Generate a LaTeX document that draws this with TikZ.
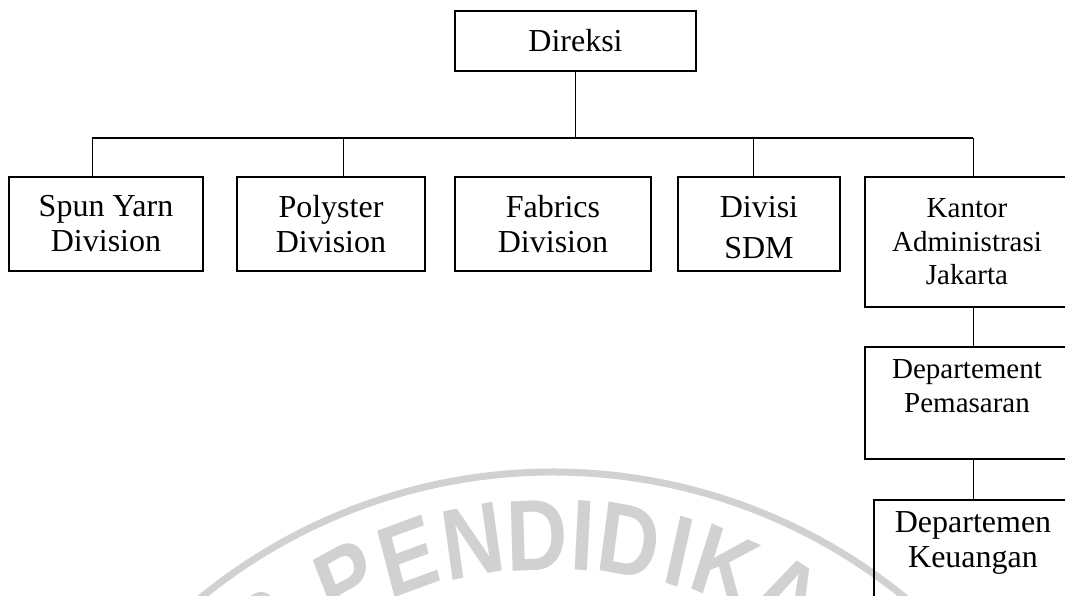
\documentclass[tikz,border=0pt]{standalone}
\usepackage{fontspec}
\setmainfont{Liberation Serif}
\newfontfamily\wmfont{Liberation Sans}
\usetikzlibrary{calc}
\definecolor{wmgray}{gray}{0.82}
\begin{document}
\begin{tikzpicture}[x=1pt,y=-1pt,
  orgbox/.style={draw=black,line width=1.8pt,inner sep=0pt,align=center,
    font=\fontsize{32}{35}\selectfont},
  smallbox/.style={orgbox,font=\fontsize{29}{33.5}\selectfont},
  conn/.style={draw=black,line width=1pt},
  busline/.style={draw=black,line width=1.6pt},
  wmletter/.style={text=wmgray,inner sep=0pt,anchor=center,xscale=0.84,
    font=\wmfont\bfseries\fontsize{101}{101}\selectfont},
  wmline/.style={draw=wmgray,line width=7pt}]
\useasboundingbox (0,0) rectangle (1065,596);
\clip (0,0) rectangle (1065,596);
\fill[white] (0,0) rectangle (1065,596);
% watermark
\coordinate (wc) at (553,1028);
\draw[wmline] ($(wc)+(-136:556)$) arc[start angle=-136, end angle=-44, radius=556];
\foreach \t/\l in {-36/S,-24.8/P,-17.1/E,-9.4/N,-1.9/D,3.5/I,8.9/D,14.9/I,20.5/K,28.7/A}{
  \node[wmletter,rotate=-\t] at ($(wc)+(\t-90:493)$) {\l};
}
% boxes
\node[orgbox,minimum width=241pt,minimum height=60pt] (direksi) at (575.5,41) {Direksi};
\node[orgbox,minimum width=194pt,minimum height=94pt] (spun) at (106,224) {Spun Yarn\\Division};
\node[orgbox,minimum width=188pt,minimum height=94pt] (poly) at (331,224) {Polyster\\Division};
\node[orgbox,minimum width=196pt,minimum height=94pt] (fabrics) at (553,224) {Fabrics\\Division};
\node[orgbox,minimum width=162pt,minimum height=94pt,font=\fontsize{32}{41}\selectfont] (sdm) at (759,224) {\rule{0pt}{29pt}Divisi\\SDM};
\node[smallbox,minimum width=204pt,minimum height=130pt] (kantor) at (967,242) {Kantor\\Administrasi\\Jakarta};
\node[smallbox,minimum width=204pt,minimum height=112pt] (pemasaran) at (967,403) {Departement\\Pemasaran\\\mbox{}};
\node[orgbox,minimum width=198pt,minimum height=124pt] (keuangan) at (973,562) {Departemen\\Keuangan\\\strut};
% connectors
\coordinate (busL) at (92,138);
\coordinate (busR) at (973,138);
\coordinate (d2) at (343,138);
\coordinate (d4) at (753,138);
\draw[conn] (direksi.south) -- (direksi.south |- busL);
\draw[busline] (busL) -- (busR);
\draw[conn] (busL) -- (busL |- spun.north);
\draw[conn] (d2) -- (d2 |- poly.north);
\draw[conn] (d4) -- (d4 |- sdm.north);
\draw[conn] (busR) -- (busR |- kantor.north);
\draw[conn] (busR |- kantor.south) -- (busR |- pemasaran.north);
\draw[conn] (busR |- pemasaran.south) -- (busR |- keuangan.north);
\end{tikzpicture}
\end{document}
